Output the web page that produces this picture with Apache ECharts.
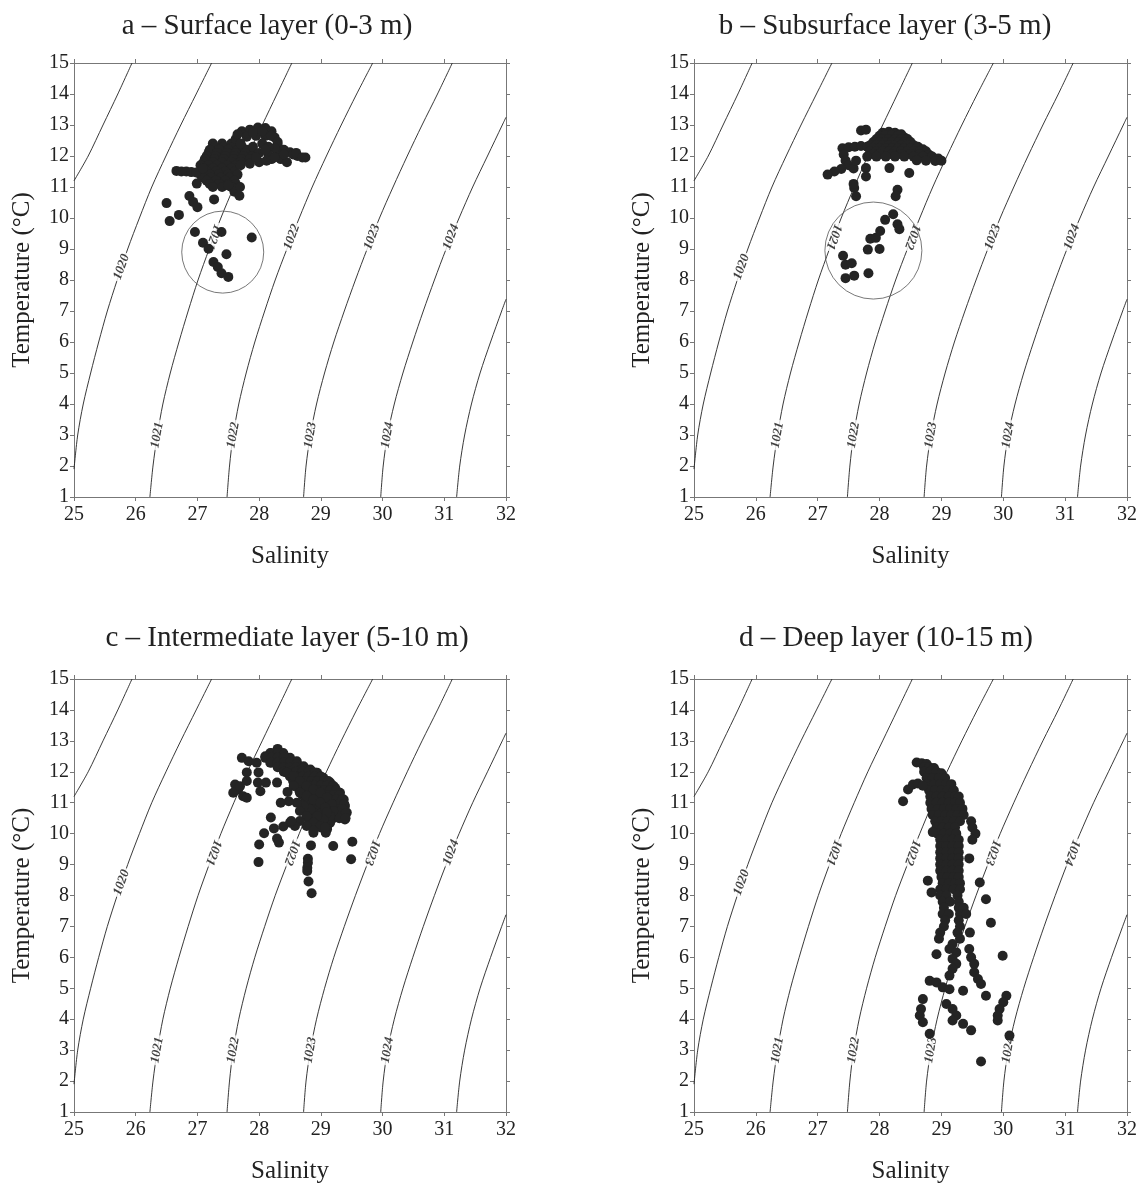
<!DOCTYPE html>
<html>
<head>
<meta charset="utf-8">
<title>T-S diagrams</title>
<script src="https://cdn.jsdelivr.net/npm/echarts@6/dist/echarts.min.js"></script>
<style>
  html, body { margin: 0; padding: 0; background: #fff; }
  #chart { width: 1143px; height: 1185px; }
</style>
</head>
<body>
<div id="chart"></div>
<script>
// axis ranges
const salinityRange = [25, 32]
const tempRange = [1, 15]

const panelTitles = [
  'a \u2013 Surface layer (0-3 m)',
  'b \u2013 Subsurface layer (3-5 m)',
  'c \u2013 Intermediate layer (5-10 m)',
  'd \u2013 Deep layer (10-15 m)'
]

// density isolines [salinity, temperature]
const iso1019 = [[25.0, 11.2], [25.23, 12], [25.47, 13], [25.71, 14], [25.94, 15]]
const iso1020 = [[25.0, 1.9], [25.06, 3], [25.15, 4], [25.27, 5], [25.4, 6], [25.54, 7], [25.7, 8], [25.87, 9], [26.06, 10], [26.26, 11], [26.49, 12], [26.73, 13], [26.98, 14], [27.23, 15]]
const iso1021 = [[26.23, 1], [26.28, 2], [26.35, 3], [26.44, 4], [26.56, 5], [26.7, 6], [26.85, 7], [27.01, 8], [27.19, 9], [27.38, 10], [27.59, 11], [27.81, 12], [28.05, 13], [28.29, 14], [28.53, 15]]
const iso1022 = [[27.48, 1], [27.52, 2], [27.58, 3], [27.67, 4], [27.79, 5], [27.93, 6], [28.09, 7], [28.26, 8], [28.45, 9], [28.65, 10], [28.86, 11], [29.09, 12], [29.33, 13], [29.58, 14], [29.84, 15]]
const iso1023 = [[28.72, 1], [28.76, 2], [28.83, 3], [28.93, 4], [29.06, 5], [29.21, 6], [29.38, 7], [29.56, 8], [29.75, 9], [29.95, 10], [30.17, 11], [30.4, 12], [30.64, 13], [30.89, 14], [31.13, 15]]
const iso1024 = [[29.97, 1], [30.01, 2], [30.08, 3], [30.19, 4], [30.33, 5], [30.49, 6], [30.66, 7], [30.84, 8], [31.03, 9], [31.24, 10], [31.46, 11], [31.7, 12], [31.94, 13], [32.0, 13.25]]
const iso1025 = [[31.2, 1], [31.25, 2], [31.33, 3], [31.44, 4], [31.58, 5], [31.75, 6], [31.93, 7], [32.0, 7.38]]
const isolines = [iso1019, iso1020, iso1021, iso1022, iso1023, iso1024, iso1025]

// isoline labels [salinity, temperature, text]
const isoLabelsUpper = [[25.77, 8.42, '1020'], [27.26, 9.39, '1021'], [28.53, 9.39, '1022'], [29.83, 9.39, '1023'], [31.11, 9.39, '1024']]
const isoLabelsLower = [[26.35, 3.0, '1021'], [27.58, 3.0, '1022'], [28.83, 3.0, '1023'], [30.08, 3.0, '1024']]

// observations [salinity, temperature]
const surfacePts = [
  [27.25, 12.4], [27.4, 12.4], [27.55, 12.4],
  [27.28, 12.3], [27.42, 12.3], [27.58, 12.3], [27.72, 12.3],
  [27.2, 12.2], [27.35, 12.2], [27.5, 12.2], [27.65, 12.2], [27.8, 12.2],
  [27.18, 12.1], [27.32, 12.1], [27.48, 12.1], [27.62, 12.1], [27.78, 12.1], [27.92, 12.1],
  [27.15, 12.0], [27.3, 12.0], [27.45, 12.0], [27.6, 12.0], [27.75, 12.0], [27.9, 12.0],
  [27.12, 11.9], [27.28, 11.9], [27.42, 11.9], [27.58, 11.9], [27.72, 11.9], [27.85, 11.9],
  [27.1, 11.8], [27.25, 11.8], [27.4, 11.8], [27.55, 11.8], [27.7, 11.8],
  [27.05, 11.7], [27.18, 11.7], [27.32, 11.7], [27.48, 11.7], [27.62, 11.7],
  [27.1, 11.6], [27.25, 11.6], [27.4, 11.6], [27.55, 11.6],
  [27.15, 11.5], [27.3, 11.5], [27.45, 11.5], [27.6, 11.5],
  [27.05, 11.4], [27.2, 11.4], [27.35, 11.4], [27.5, 11.4], [27.65, 11.4],
  [27.1, 11.3], [27.22, 11.3], [27.38, 11.3], [27.52, 11.3],
  [27.15, 11.2], [27.3, 11.2], [27.45, 11.2], [27.6, 11.2],
  [27.2, 11.1], [27.35, 11.1], [27.5, 11.1], [27.62, 11.1],
  [27.25, 11.0], [27.4, 11.0], [27.55, 11.0],
  [27.72, 12.8], [27.85, 12.85], [27.98, 12.92], [28.1, 12.9], [28.2, 12.8], [28.25, 12.6], [27.8, 12.62], [27.95, 12.65], [28.1, 12.65], [27.62, 12.55],
  [27.65, 12.7], [27.9, 12.75], [28.05, 12.8], [28.2, 12.65], [28.3, 12.45],
  [28.3, 12.35], [28.4, 12.2], [28.5, 12.12], [28.62, 12.0], [28.75, 11.95], [28.35, 11.9], [28.45, 11.8], [28.55, 12.05], [28.3, 12.1],
  [28.25, 12.25], [28.4, 12.05], [28.6, 12.1], [28.7, 11.95], [28.2, 11.9],
  [27.7, 12.4], [27.9, 12.3], [28.05, 12.4], [28.15, 12.3], [28.0, 12.1], [28.15, 12.05], [27.7, 11.7], [27.85, 11.75], [28.0, 11.8], [28.12, 11.85], [28.25, 11.95],
  [27.95, 11.95], [28.1, 12.2],
  [27.6, 10.85], [27.69, 11.0], [27.68, 10.72], [27.5, 11.05],
  [26.5, 10.48], [26.55, 9.9], [26.7, 10.1], [26.87, 10.71], [26.93, 10.52], [27.0, 10.35], [27.27, 10.6], [26.99, 11.11],
  [26.66, 11.52], [26.74, 11.5], [26.82, 11.5], [26.9, 11.48], [26.98, 11.47], [27.09, 11.6],
  [26.96, 9.55], [27.09, 9.2], [27.18, 9.01], [27.39, 9.55], [27.47, 8.83], [27.88, 9.37], [27.26, 8.58], [27.33, 8.42], [27.39, 8.22], [27.5, 8.1]
]

const subsurfacePts = [
  [27.7, 12.82], [27.78, 12.85],
  [27.4, 12.25], [27.5, 12.28], [27.6, 12.3], [27.7, 12.32], [27.8, 12.3], [27.42, 12.05], [27.45, 11.85], [27.5, 11.7], [27.38, 11.58], [27.27, 11.5], [27.16, 11.4],
  [27.58, 11.6], [27.62, 11.85], [27.78, 11.61], [27.78, 11.34], [27.59, 10.97], [27.62, 10.7], [27.58, 11.1],
  [28.16, 11.61], [28.48, 11.45], [28.29, 10.91], [28.26, 10.7],
  [28.05, 12.75], [28.15, 12.78], [28.25, 12.75], [28.35, 12.7],
  [28.0, 12.65], [28.1, 12.68], [28.2, 12.68], [28.3, 12.65], [28.4, 12.6],
  [27.95, 12.55], [28.05, 12.55], [28.15, 12.55], [28.25, 12.55], [28.35, 12.55], [28.45, 12.55],
  [27.9, 12.45], [28.0, 12.45], [28.1, 12.45], [28.2, 12.45], [28.3, 12.45], [28.4, 12.45], [28.5, 12.45],
  [27.85, 12.35], [27.95, 12.35], [28.05, 12.35], [28.15, 12.35], [28.25, 12.35], [28.35, 12.35], [28.45, 12.35], [28.55, 12.35], [28.62, 12.3],
  [27.9, 12.25], [28.0, 12.25], [28.1, 12.25], [28.2, 12.25], [28.3, 12.25], [28.4, 12.25], [28.5, 12.25], [28.6, 12.25], [28.7, 12.22],
  [27.85, 12.15], [27.95, 12.15], [28.05, 12.15], [28.15, 12.15], [28.25, 12.15], [28.35, 12.15], [28.45, 12.15], [28.55, 12.15], [28.65, 12.15], [28.75, 12.15],
  [27.9, 12.06], [28.0, 12.06], [28.2, 12.06], [28.35, 12.06], [28.5, 12.06], [28.65, 12.06], [28.8, 12.04],
  [27.8, 11.98], [27.95, 11.98], [28.1, 11.98], [28.25, 11.98], [28.4, 11.98], [28.55, 11.98], [28.7, 11.98], [28.85, 11.98], [28.95, 11.92],
  [28.6, 11.86], [28.75, 11.85], [28.9, 11.84], [29.0, 11.85],
  [27.41, 8.78], [27.45, 8.49], [27.55, 8.54], [27.45, 8.06], [27.59, 8.14], [27.82, 8.22], [27.81, 8.98], [28.0, 9.0],
  [27.85, 9.33], [27.94, 9.36], [28.01, 9.58], [28.09, 9.94], [28.22, 10.12], [28.29, 9.8], [28.32, 9.64]
]

const intermediatePts = [
  [27.72, 12.45], [27.83, 12.34], [27.96, 12.29], [28.1, 12.5], [28.18, 12.61], [28.3, 12.74], [28.39, 12.61], [28.5, 12.45], [28.61, 12.34], [28.72, 12.18],
  [28.83, 12.07], [28.94, 11.97], [29.04, 11.81], [29.15, 11.65], [29.23, 11.48], [29.31, 11.32], [29.37, 11.1], [29.39, 10.89], [29.42, 10.68], [29.39, 10.46],
  [28.18, 12.29], [28.29, 12.34], [28.39, 12.29], [28.5, 12.18], [28.61, 12.07], [28.72, 11.97], [28.83, 11.81], [28.94, 11.7], [29.04, 11.54], [29.15, 11.32],
  [29.23, 11.1], [29.29, 10.89], [29.31, 10.68],
  [28.2, 12.6], [28.3, 12.6], [28.4, 12.55],
  [28.1, 12.45], [28.2, 12.45], [28.3, 12.45], [28.4, 12.45],
  [28.2, 12.3], [28.3, 12.3], [28.4, 12.3], [28.5, 12.3], [28.6, 12.25],
  [28.3, 12.15], [28.4, 12.15], [28.5, 12.15], [28.6, 12.15], [28.7, 12.1],
  [28.4, 12.0], [28.5, 12.0], [28.6, 12.0], [28.7, 12.0], [28.8, 12.0], [28.9, 11.98],
  [28.5, 11.85], [28.6, 11.85], [28.7, 11.85], [28.8, 11.85], [28.9, 11.85], [29.0, 11.85],
  [28.55, 11.7], [28.65, 11.7], [28.75, 11.7], [28.85, 11.7], [28.95, 11.7], [29.05, 11.7], [29.12, 11.7],
  [28.6, 11.55], [28.7, 11.55], [28.8, 11.55], [28.9, 11.55], [29.0, 11.55], [29.1, 11.55], [29.2, 11.55],
  [28.65, 11.4], [28.75, 11.4], [28.85, 11.4], [28.95, 11.4], [29.05, 11.4], [29.15, 11.4], [29.25, 11.4],
  [28.7, 11.25], [28.8, 11.25], [28.9, 11.25], [29.0, 11.25], [29.1, 11.25], [29.2, 11.25], [29.3, 11.25],
  [28.75, 11.1], [28.85, 11.1], [28.95, 11.1], [29.05, 11.1], [29.15, 11.1], [29.25, 11.1], [29.35, 11.1],
  [28.7, 10.95], [28.8, 10.95], [28.9, 10.95], [29.0, 10.95], [29.1, 10.95], [29.2, 10.95], [29.3, 10.95], [29.38, 10.95],
  [28.75, 10.8], [28.85, 10.8], [28.95, 10.8], [29.05, 10.8], [29.15, 10.8], [29.25, 10.8], [29.35, 10.8],
  [28.8, 10.65], [28.9, 10.65], [29.0, 10.65], [29.1, 10.65], [29.2, 10.65], [29.3, 10.65], [29.4, 10.65],
  [28.8, 10.5], [28.9, 10.5], [29.0, 10.5], [29.1, 10.5], [29.2, 10.5], [29.3, 10.5], [29.4, 10.5],
  [28.85, 10.35], [28.95, 10.35], [29.05, 10.35], [29.15, 10.35], [28.9, 10.2], [29.0, 10.2], [29.1, 10.2],
  [28.45, 11.97], [28.56, 11.86], [28.66, 11.7], [28.77, 11.54], [28.88, 11.43], [28.99, 11.32], [29.1, 11.16], [29.18, 10.94], [29.2, 10.73], [29.15, 10.57],
  [28.56, 11.54], [28.66, 11.32], [28.77, 11.21], [28.88, 11.1], [28.99, 11.0], [29.07, 10.84], [29.1, 10.68], [29.04, 10.46], [28.94, 10.57], [28.83, 10.78],
  [28.72, 10.89], [28.61, 11.0],
  [28.66, 10.73], [28.77, 10.57], [28.88, 10.35], [28.99, 10.25], [29.1, 10.14], [28.88, 10.03], [28.77, 10.25], [28.66, 10.41], [28.58, 10.25], [28.5, 10.35],
  [27.8, 11.98], [27.99, 11.98], [27.98, 11.65], [28.11, 11.65], [28.02, 11.37], [28.29, 11.65], [27.61, 11.59], [27.66, 11.43], [27.74, 11.21], [27.8, 11.16],
  [27.58, 11.32], [27.69, 11.53], [27.8, 11.7], [28.46, 11.35], [28.48, 11.05], [28.35, 11.0],
  [28.19, 10.52], [28.08, 10.01], [28.24, 10.17], [28.39, 10.23], [28.52, 10.41], [28.0, 9.65], [28.29, 9.84], [28.32, 9.71], [27.99, 9.08],
  [28.84, 9.62], [28.79, 9.19], [28.79, 9.06], [28.78, 8.9], [28.78, 8.79], [28.8, 8.45], [28.85, 8.07],
  [29.2, 9.6], [29.51, 9.74], [29.49, 9.17], [29.08, 10.03], [29.07, 10.2], [28.88, 10.09]
]

const deepPts = [
  [28.6, 12.3], [28.68, 12.28], [28.76, 12.25],
  [28.72, 12.15], [28.8, 12.15], [28.88, 12.12],
  [28.72, 12.0], [28.82, 12.0], [28.92, 12.0], [29.0, 11.95],
  [28.76, 11.8], [28.86, 11.8], [28.96, 11.8], [29.06, 11.8],
  [28.78, 11.6], [28.88, 11.6], [28.98, 11.6], [29.08, 11.6], [29.16, 11.6],
  [28.8, 11.4], [28.9, 11.4], [29.0, 11.4], [29.1, 11.4], [29.2, 11.4],
  [28.82, 11.2], [28.92, 11.2], [29.02, 11.2], [29.12, 11.2], [29.22, 11.2], [29.28, 11.2],
  [28.82, 11.0], [28.92, 11.0], [29.02, 11.0], [29.12, 11.0], [29.22, 11.0], [29.3, 11.0],
  [28.84, 10.8], [28.94, 10.8], [29.04, 10.8], [29.14, 10.8], [29.24, 10.8], [29.34, 10.8],
  [28.86, 10.6], [28.96, 10.6], [29.06, 10.6], [29.16, 10.6], [29.26, 10.6], [29.36, 10.6],
  [28.9, 10.4], [29.0, 10.4], [29.1, 10.4], [29.2, 10.4], [29.3, 10.4], [29.48, 10.4],
  [28.92, 10.2], [29.02, 10.2], [29.12, 10.2], [29.22, 10.2], [29.5, 10.2],
  [28.94, 10.0], [29.04, 10.0], [29.14, 10.0], [29.24, 10.0], [29.55, 10.0],
  [28.98, 9.8], [29.08, 9.8], [29.18, 9.8], [29.28, 9.8], [29.5, 9.8],
  [28.98, 9.6], [29.08, 9.6], [29.18, 9.6], [29.28, 9.6],
  [28.98, 9.4], [29.08, 9.4], [29.18, 9.4], [29.28, 9.4],
  [28.98, 9.2], [29.08, 9.2], [29.18, 9.2], [29.28, 9.2], [29.45, 9.2],
  [28.98, 9.0], [29.08, 9.0], [29.18, 9.0], [29.28, 9.0],
  [28.98, 8.8], [29.08, 8.8], [29.18, 8.8], [29.28, 8.8],
  [29.0, 8.6], [29.1, 8.6], [29.2, 8.6], [29.28, 8.6],
  [29.02, 8.4], [29.12, 8.4], [29.22, 8.4], [29.3, 8.4],
  [28.98, 8.2], [29.08, 8.2], [29.2, 8.2], [29.3, 8.2],
  [28.98, 8.0], [29.08, 8.0], [29.26, 8.0],
  [29.02, 7.8], [29.14, 7.8], [29.28, 7.8],
  [29.04, 7.6], [29.28, 7.6], [29.36, 7.6],
  [29.02, 7.4], [29.12, 7.4], [29.3, 7.4], [29.4, 7.4],
  [29.06, 7.2], [29.28, 7.2], [29.04, 7.0], [29.3, 7.0],
  [28.98, 6.8], [29.26, 6.8], [29.46, 6.8], [28.96, 6.6], [29.3, 6.6],
  [28.78, 8.48], [28.84, 8.1], [29.62, 8.42], [29.72, 7.88], [29.8, 7.12], [28.86, 10.05],
  [28.38, 11.05], [28.46, 11.43], [28.54, 11.59], [28.62, 11.62], [28.7, 11.55],
  [28.92, 6.1], [29.18, 6.43], [29.13, 6.27], [29.24, 6.16], [29.18, 5.95], [29.24, 5.79], [29.18, 5.63], [29.13, 5.41],
  [29.45, 6.27], [29.48, 6.0], [29.53, 5.79], [29.53, 5.52], [29.59, 5.3], [29.64, 5.14], [29.99, 6.05],
  [28.81, 5.24], [28.92, 5.19], [29.02, 5.03], [29.13, 4.97], [29.35, 4.92], [29.72, 4.76],
  [28.7, 4.65], [28.67, 4.33], [28.65, 4.12], [28.7, 3.9],
  [29.08, 4.49], [29.18, 4.33], [29.24, 4.12], [29.18, 3.96], [29.35, 3.85], [29.48, 3.64],
  [30.05, 4.76], [30.0, 4.55], [29.94, 4.33], [29.91, 4.12], [29.91, 3.96],
  [28.81, 3.53], [30.1, 3.47], [29.64, 2.63]
]

// highlighted groups (circle centres)
const circleA = [27.41, 8.9]
const circleB = [27.9, 8.95]

const serif = 'Liberation Serif'
const axisColor = '#777'
const inkColor = '#242424'

const panels = [
  { title: panelTitles[0], titleX: 262, titleTop: 7, grid: { left: 74, top: 63, width: 432, height: 434 }, pts: surfacePts, circle: circleA, circleSize: 82, flipped: ['1021'] },
  { title: panelTitles[1], titleX: 880, titleTop: 7, grid: { left: 694, top: 63, width: 433, height: 434 }, pts: subsurfacePts, circle: circleB, circleSize: 97, flipped: ['1021', '1022'] },
  { title: panelTitles[2], titleX: 282, titleTop: 619, grid: { left: 74, top: 679, width: 432, height: 434 }, pts: intermediatePts, circle: null, flipped: ['1021', '1022', '1023'] },
  { title: panelTitles[3], titleX: 881, titleTop: 619, grid: { left: 694, top: 679, width: 433, height: 434 }, pts: deepPts, circle: null, flipped: ['1021', '1022', '1023', '1024'] }
]

const baseAxis = {
  axisLine: { show: true, onZero: false, lineStyle: { color: axisColor, width: 1 } },
  axisTick: { show: true, length: 4, lineStyle: { color: axisColor } },
  splitLine: { show: false }
}

const titles = []
const grids = []
const xAxes = []
const yAxes = []
const series = []

panels.forEach((p, i) => {
  titles.push({
    text: p.title,
    left: p.titleX,
    top: p.titleTop,
    textAlign: 'center',
    textStyle: { fontFamily: serif, fontSize: 29, fontWeight: 'normal', color: '#222' }
  })
  grids.push(Object.assign({ containLabel: false }, p.grid))

  xAxes.push(Object.assign({}, baseAxis, {
    type: 'value', gridIndex: i, position: 'bottom',
    min: salinityRange[0], max: salinityRange[1], interval: 1,
    name: 'Salinity', nameLocation: 'middle', nameGap: 47,
    nameTextStyle: { fontFamily: serif, fontSize: 25, color: '#222' },
    axisLabel: { fontFamily: serif, fontSize: 20, color: '#222', margin: 8 }
  }))
  xAxes.push(Object.assign({}, baseAxis, {
    type: 'value', gridIndex: i, position: 'top',
    min: salinityRange[0], max: salinityRange[1], interval: 1,
    axisLabel: { show: false }
  }))
  yAxes.push(Object.assign({}, baseAxis, {
    type: 'value', gridIndex: i, position: 'left',
    min: tempRange[0], max: tempRange[1], interval: 1,
    name: 'Temperature (\u00B0C)', nameLocation: 'middle', nameGap: 39, nameRotate: 90,
    nameTextStyle: { fontFamily: serif, fontSize: 25, color: '#222' },
    axisLabel: { fontFamily: serif, fontSize: 20, color: '#222', margin: 5 }
  }))
  yAxes.push(Object.assign({}, baseAxis, {
    type: 'value', gridIndex: i, position: 'right',
    min: tempRange[0], max: tempRange[1], interval: 1,
    axisLabel: { show: false }
  }))

  const xi = i * 2
  const yi = i * 2

  isolines.forEach(line => {
    series.push({
      type: 'line', xAxisIndex: xi, yAxisIndex: yi,
      data: line, smooth: 0.3, symbol: 'none', clip: true, silent: true,
      lineStyle: { color: '#222', width: 0.9 },
      z: 2
    })
  })

  const labelItems = []
  isoLabelsUpper.forEach(l => {
    labelItems.push({ name: l[2], value: [l[0], l[1]], label: { rotate: p.flipped.includes(l[2]) ? -110 : 70 } })
  })
  isoLabelsLower.forEach(l => {
    labelItems.push({ name: l[2], value: [l[0], l[1]], label: { rotate: 80 } })
  })
  series.push({
    type: 'scatter', xAxisIndex: xi, yAxisIndex: yi, silent: true,
    symbolSize: 1, itemStyle: { color: 'rgba(0,0,0,0)' },
    label: {
      show: true, position: 'inside', formatter: d => d.name,
      fontFamily: serif, fontStyle: 'italic', fontWeight: 'bold', fontSize: 13, color: '#111',
      backgroundColor: '#fff', padding: [0, 2]
    },
    data: labelItems,
    z: 3
  })

  if (p.circle) {
    series.push({
      type: 'scatter', xAxisIndex: xi, yAxisIndex: yi, silent: true,
      symbol: 'circle', symbolSize: p.circleSize,
      itemStyle: { color: 'rgba(0,0,0,0)', borderColor: '#555', borderWidth: 1 },
      data: [p.circle],
      z: 4
    })
  }

  series.push({
    type: 'scatter', xAxisIndex: xi, yAxisIndex: yi,
    symbol: 'circle', symbolSize: 10,
    itemStyle: { color: inkColor, opacity: 1 },
    data: p.pts,
    z: 5
  })
})

const chart = echarts.init(document.getElementById('chart'))
chart.setOption({
  animation: false,
  backgroundColor: '#fff',
  title: titles,
  grid: grids,
  xAxis: xAxes,
  yAxis: yAxes,
  series: series
})

window.addEventListener('resize', () => chart.resize())
</script>
</body>
</html>
